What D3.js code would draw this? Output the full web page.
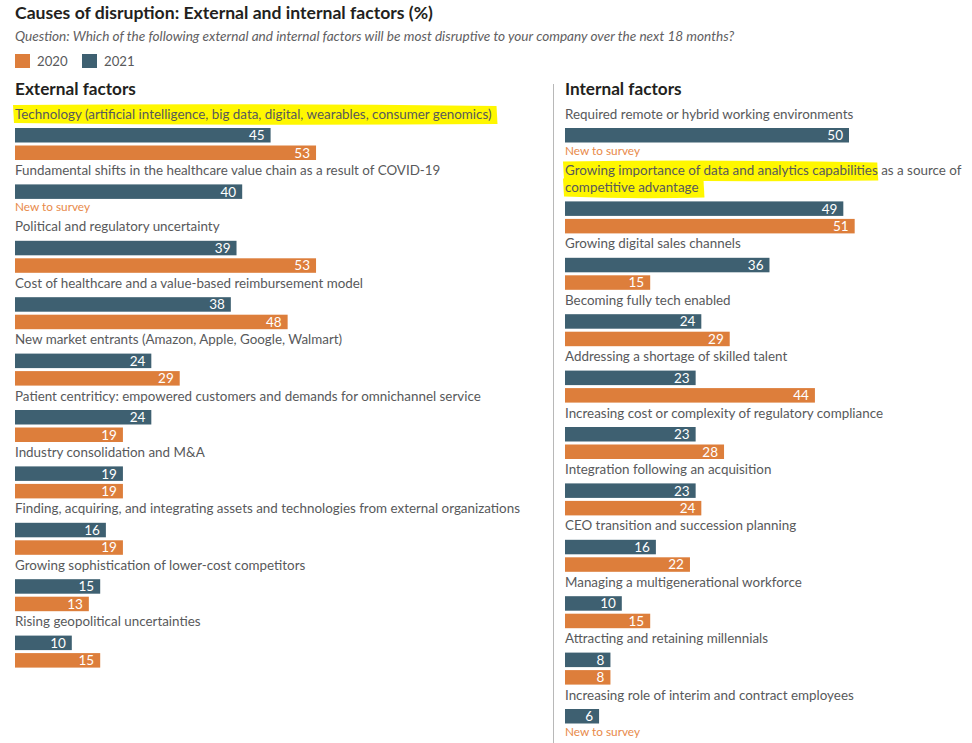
<!DOCTYPE html>
<html><head><meta charset="utf-8">
<script src="https://cdn.jsdelivr.net/npm/d3@7"></script>
<style>
html,body{margin:0;padding:0;background:#fff;}
svg{display:block;}
text{font-family:Lato, "Noto Sans", sans-serif;}
</style></head>
<body><svg id="chart" width="972" height="743"></svg>
<script>
const title = "Causes of disruption: External and internal factors (%)";
const subtitle = "Question: Which of the following external and internal factors will be most disruptive to your company over the next 18 months?";
const seriesNames = ["2020", "2021"];
const colors = {"2020": "#dd7e3b", "2021": "#3e6071"};

const extCategories = [
  "Technology (artificial intelligence, big data, digital, wearables, consumer genomics)",
  "Fundamental shifts in the healthcare value chain as a result of COVID-19",
  "Political and regulatory uncertainty",
  "Cost of healthcare and a value-based reimbursement model",
  "New market entrants (Amazon, Apple, Google, Walmart)",
  "Patient centriticy: empowered customers and demands for omnichannel service",
  "Industry consolidation and M&A",
  "Finding, acquiring, and integrating assets and technologies from external organizations",
  "Growing sophistication of lower-cost competitors",
  "Rising geopolitical uncertainties"
];
const ext2021 = [45, 40, 39, 38, 24, 24, 19, 16, 15, 10];
const ext2020 = [53, null, 53, 48, 29, 19, 19, 19, 13, 15];
const extHighlight = [true, false, false, false, false, false, false, false, false, false];

const intCategories = [
  "Required remote or hybrid working environments",
  "Growing importance of data and analytics capabilities as a source of\ncompetitive advantage",
  "Growing digital sales channels",
  "Becoming fully tech enabled",
  "Addressing a shortage of skilled talent",
  "Increasing cost or complexity of regulatory compliance",
  "Integration following an acquisition",
  "CEO transition and succession planning",
  "Managing a multigenerational workforce",
  "Attracting and retaining millennials",
  "Increasing role of interim and contract employees"
];
const int2021 = [50, 49, 36, 24, 23, 23, 23, 16, 10, 8, 6];
const int2020 = [null, 51, 15, 29, 44, 28, 24, 22, 15, 8, null];
const intHighlight = [false, true, false, false, false, false, false, false, false, false, false];

const newLabel = "New to survey";

const svg = d3.select("#chart");
const textColor = "#58595b";

// Title / subtitle
svg.append("text").attr("x", 15).attr("y", 19).attr("font-size", 17.6).attr("font-weight", 700)
  .attr("fill", "#231f20").text(title);
svg.append("text").attr("x", 15).attr("y", 41).attr("font-size", 13.6).attr("font-style", "italic")
  .attr("fill", "#5f6062").text(subtitle);

// Legend
const legend = svg.append("g");
[["2020", 15], ["2021", 82]].forEach(([k, x]) => {
  legend.append("rect").attr("x", x).attr("y", 54).attr("width", 15).attr("height", 14).attr("fill", colors[k]);
  legend.append("text").attr("x", x + 22).attr("y", 66).attr("font-size", 13.2).attr("fill", textColor).text(k);
});

// Divider
svg.append("line").attr("x1", 553.5).attr("x2", 553.5).attr("y1", 84).attr("y2", 743)
  .attr("stroke", "#b8b8b8").attr("stroke-width", 1);

const pxPerUnit = 5.68;
function panel(x0, heading, cats, v21, v20, hl) {
  const g = svg.append("g");
  const x = d3.scaleLinear().domain([0, 1]).range([x0, x0 + pxPerUnit]);
  g.append("text").attr("x", x0).attr("y", 95).attr("font-size", 17.2).attr("font-weight", 700)
    .attr("fill", "#231f20").text(heading);
  let cy = 114;
  const barH = 14.5;
  cats.forEach((c, i) => {
    const lines = c.split("\n");
    const hlG = g.append("g");
    const labelNodes = [];
    lines.forEach((ln, j) => {
      const t = g.append("text").attr("x", x0).attr("y", cy + j * 17).attr("dy", "0.35em")
        .attr("font-size", 13.4).attr("fill", textColor).text(ln);
      labelNodes.push(t);
    });
    if (hl[i]) {
      labelNodes.forEach((t, j) => {
        let w = t.node().getComputedTextLength();
        if (j === 0 && lines.length > 1) w = w * 0.775;
        const yc = cy + j * 17;
        hlG.append("path")
          .attr("d", `M${x0 - 2},${yc - 9} Q${x0 + w / 2},${yc - 11} ${x0 + w + 5},${yc - 8} L${x0 + w + 6},${yc + 10} Q${x0 + w / 2},${yc + 12} ${x0 - 1},${yc + 9} Z`)
          .attr("fill", "#fff700");
      });
    }
    const base = cy + (lines.length - 1) * 17;
    const rows = [["2021", v21[i], base + 14], ["2020", v20[i], base + 31.5]];
    rows.forEach(([k, v, y]) => {
      if (v == null) return;
      g.append("rect").attr("x", x(0)).attr("y", y).attr("width", x(v) - x(0)).attr("height", barH)
        .attr("fill", colors[k]);
      g.append("text").attr("x", x(v) - 6).attr("y", y + barH / 2).attr("dy", "0.36em")
        .attr("text-anchor", "end").attr("font-size", 13.5).attr("fill", "#fff").text(v);
    });
    if (v20[i] == null) {
      g.append("text").attr("x", x0).attr("y", base + 36.5).attr("dy", "0.35em")
        .attr("font-size", 11.8).attr("fill", "#e8894a").text(newLabel);
    }
    cy = base + 56.4;
  });
}
panel(15, "External factors", extCategories, ext2021, ext2020, extHighlight);
panel(565, "Internal factors", intCategories, int2021, int2020, intHighlight);
</script></body></html>
